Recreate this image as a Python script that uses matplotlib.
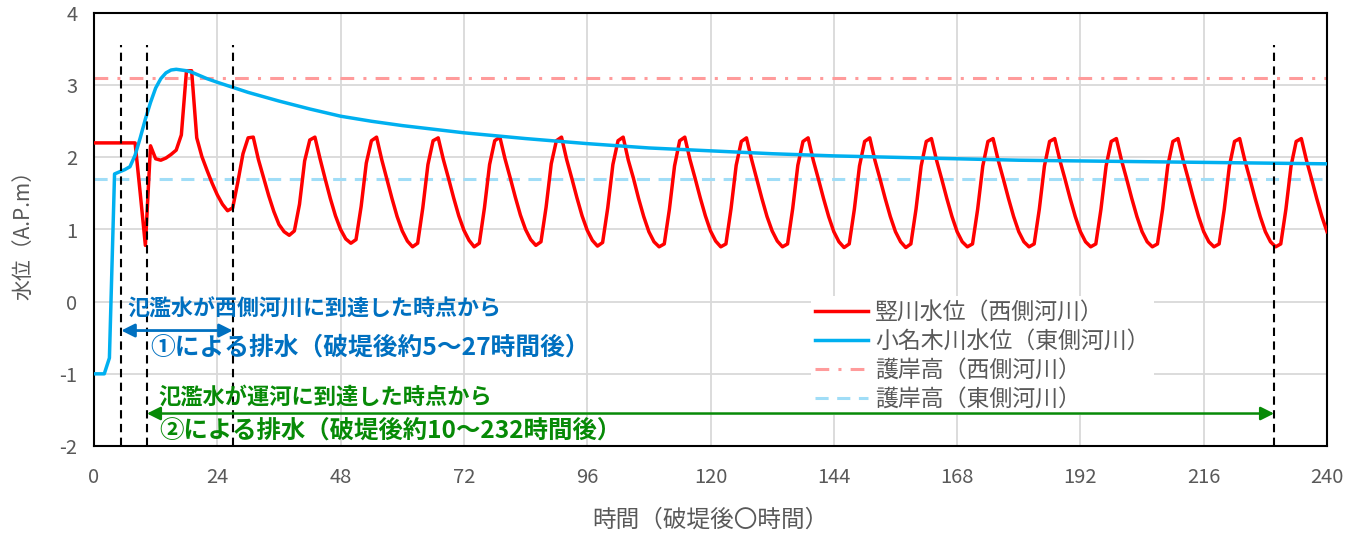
import numpy as np
import matplotlib.pyplot as plt

plt.rcParams['font.family'] = ['Noto Sans CJK JP', 'DejaVu Sans']
plt.rcParams['axes.unicode_minus'] = False

# 竪川水位（西側河川）: hourly values, t = 0..240
tate_hours = np.arange(0, 241)
tate_level = [
    2.20, 2.20, 2.20, 2.20, 2.20, 2.20, 2.20, 2.20, 2.20, 1.50, 0.78, 2.16,
    1.98, 1.96, 1.99, 2.04, 2.10, 2.31, 3.20, 3.20, 2.27, 2.01, 1.82, 1.64,
    1.48, 1.35, 1.26, 1.30, 1.66, 2.05, 2.27, 2.28, 1.97, 1.72, 1.47, 1.25,
    1.07, 0.97, 0.92, 0.98, 1.35, 1.95, 2.24, 2.28, 1.98, 1.70, 1.43, 1.19,
    1.00, 0.87, 0.81, 0.86, 1.32, 1.92, 2.23, 2.28, 1.97, 1.70, 1.43, 1.18,
    0.98, 0.84, 0.76, 0.81, 1.30, 1.90, 2.23, 2.27, 1.97, 1.71, 1.44, 1.19,
    0.99, 0.85, 0.76, 0.81, 1.30, 1.90, 2.23, 2.28, 1.98, 1.72, 1.45, 1.20,
    1.00, 0.86, 0.78, 0.83, 1.31, 1.91, 2.23, 2.28, 1.97, 1.71, 1.44, 1.19,
    0.99, 0.85, 0.77, 0.82, 1.30, 1.90, 2.23, 2.28, 1.96, 1.71, 1.43, 1.18,
    0.97, 0.83, 0.76, 0.80, 1.28, 1.88, 2.23, 2.28, 1.97, 1.71, 1.44, 1.19,
    0.98, 0.84, 0.76, 0.80, 1.29, 1.89, 2.22, 2.27, 1.97, 1.70, 1.43, 1.18,
    0.98, 0.84, 0.76, 0.80, 1.29, 1.89, 2.22, 2.27, 1.96, 1.70, 1.43, 1.18,
    0.97, 0.83, 0.75, 0.80, 1.28, 1.88, 2.22, 2.27, 1.96, 1.70, 1.43, 1.18,
    0.97, 0.83, 0.75, 0.80, 1.28, 1.88, 2.22, 2.26, 1.96, 1.70, 1.43, 1.18,
    0.97, 0.83, 0.76, 0.80, 1.28, 1.88, 2.22, 2.26, 1.96, 1.70, 1.43, 1.18,
    0.97, 0.83, 0.76, 0.80, 1.28, 1.88, 2.22, 2.26, 1.96, 1.70, 1.43, 1.18,
    0.97, 0.83, 0.76, 0.80, 1.28, 1.88, 2.22, 2.26, 1.96, 1.70, 1.43, 1.18,
    0.97, 0.83, 0.76, 0.80, 1.28, 1.88, 2.22, 2.26, 1.96, 1.70, 1.43, 1.18,
    0.97, 0.83, 0.76, 0.80, 1.28, 1.88, 2.22, 2.26, 1.96, 1.70, 1.43, 1.18,
    0.97, 0.83, 0.76, 0.80, 1.28, 1.88, 2.22, 2.26, 1.96, 1.70, 1.43, 1.18,
    0.97,
]

# 小名木川水位（東側河川）
onagi_hours = [0, 2, 3, 4, 5, 6, 7, 8, 9, 10, 11, 12, 13, 14, 15, 16, 17, 18, 19, 20,
               22, 24, 27, 30, 33, 36, 42, 48, 54, 60, 72, 84, 96, 108, 120, 132,
               144, 156, 168, 180, 192, 204, 216, 228, 240]
onagi_level = [-1.00, -1.00, -0.78, 1.77, 1.80, 1.83, 1.87, 2.03, 2.27, 2.53, 2.76, 2.96,
               3.09, 3.17, 3.21, 3.22, 3.21, 3.20, 3.18, 3.15, 3.09, 3.04, 2.97, 2.90,
               2.84, 2.78, 2.67, 2.57, 2.50, 2.44, 2.34, 2.26, 2.19, 2.13, 2.09, 2.05,
               2.02, 2.00, 1.98, 1.96, 1.95, 1.94, 1.93, 1.92, 1.91]

bank_west = 3.1
bank_east = 1.7
event_hours = [5.3, 10.3, 27.0, 229.7]

fig = plt.figure(figsize=(13.59, 5.33), dpi=100)
ax = fig.add_axes([94/1359, 1-446/533, 1233/1359, 433/533])

grid_c = '#D9D9D9'
ax.set_axisbelow(True)
ax.grid(True, color=grid_c, lw=1.3)

ax.plot(tate_hours, tate_level, color='#FF0000', lw=2.5, label='竪川水位（西側河川）', zorder=3)
ax.plot(onagi_hours, onagi_level, color='#00B0F0', lw=2.5, label='小名木川水位（東側河川）', zorder=3)
ax.axhline(bank_west, color='#FF9B9B', lw=2.2, dashes=(4.5, 3, 1, 3),
           label='護岸高（西側河川）', zorder=2)
ax.axhline(bank_east, color='#A0DDF7', lw=2.2, dashes=(4.3, 2.8),
           label='護岸高（東側河川）', zorder=2)

for h in event_hours:
    ax.plot([h, h], [-2, 3.55], color='black', lw=1.5, dashes=(4, 2.6), zorder=4)

blue_c = '#0070C0'
green_c = '#078A07'
ax.annotate('', xy=(event_hours[0], -0.4), xytext=(event_hours[2], -0.4),
            arrowprops=dict(arrowstyle='<|-|>', color=blue_c, lw=2, mutation_scale=20,
                            shrinkA=0, shrinkB=0), zorder=5)
ax.annotate('', xy=(event_hours[1], -1.55), xytext=(event_hours[3], -1.55),
            arrowprops=dict(arrowstyle='<|-|>', color=green_c, lw=1.8, mutation_scale=20,
                            shrinkA=0, shrinkB=0), zorder=5)

ax.text(6.4, -0.11, '氾濫水が西側河川に到達した時点から', color=blue_c, fontsize=15.8,
        fontweight='bold', va='center', ha='left', zorder=6)
ax.text(10.9, -0.63, '①による排水（破堤後約5～27時間後）', color=blue_c, fontsize=17.8,
        fontweight='bold', va='center', ha='left', zorder=6)
ax.text(12.5, -1.32, '氾濫水が運河に到達した時点から', color=green_c, fontsize=16,
        fontweight='bold', va='center', ha='left', zorder=6)
ax.text(12.8, -1.79, '②による排水（破堤後約10～232時間後）', color=green_c, fontsize=17.6,
        fontweight='bold', va='center', ha='left', zorder=6)

ax.set_xlim(0, 240)
ax.set_ylim(-2, 4)
ax.set_xticks(np.arange(0, 241, 24))
ax.set_yticks(np.arange(-2, 5, 1))
ax.tick_params(axis='x', pad=15)
ax.tick_params(axis='y', pad=12)
ax.tick_params(length=0, labelsize=14.5, labelcolor='#595959')
for s in ax.spines.values():
    s.set_color('black')
    s.set_linewidth(1.5)

ax.set_xlabel('時間（破堤後〇時間）', fontsize=17, color='#595959', labelpad=15)
ax.set_ylabel('水位（A.P.m）', fontsize=15, color='#595959', labelpad=18)

leg = ax.legend(loc='upper left', bbox_to_anchor=(0.572, 0.372), fontsize=16.5,
                frameon=True, facecolor='white', edgecolor='none', framealpha=1,
                handlelength=2.3, handletextpad=0.3, labelspacing=0.26, borderpad=0.2)
for t in leg.get_texts():
    t.set_color('#595959')
leg.set_zorder(4.5)

fig.savefig('out.png', dpi=100)
